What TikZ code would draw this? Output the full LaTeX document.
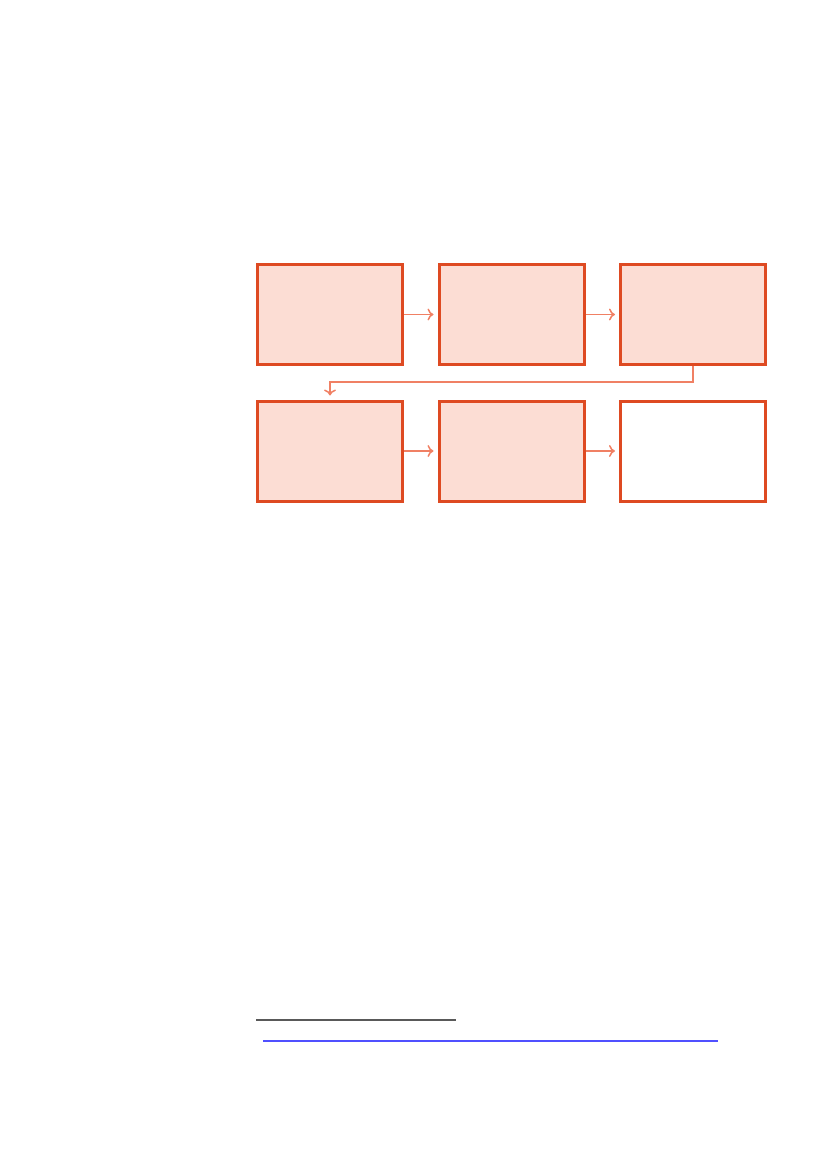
\documentclass[tikz,border=0pt]{standalone}
\usetikzlibrary{arrows.meta}
\definecolor{boxline}{RGB}{222,74,34}
\definecolor{boxfill}{RGB}{252,221,212}
\definecolor{flowline}{RGB}{240,128,100}
\definecolor{footblue}{RGB}{80,80,255}

\begin{document}
\begin{tikzpicture}[x=1pt,y=-1pt,
  stage box/.style={rectangle,draw=boxline,fill=boxfill,line width=3pt,
    minimum width=145pt,minimum height=100pt,inner sep=0pt},
  flow/.style={draw=flowline,line width=1.5pt,
    -{To[length=6pt,width=12pt,line width=1.5pt]},shorten >=4pt}]

  \useasboundingbox (0,0) rectangle (827,1170);

  \node[stage box]  (1) at (330, 314.5) {};
  \node[stage box]  (2) at (511.5, 314.5) {};
  \node[stage box]  (3) at (693, 314.5) {};
  \node[stage box]  (4) at (330, 451) {};
  \node[stage box]  (5) at (511.5, 451) {};
  \node[stage box, fill=white]  (6) at (693, 451) {};

  \path[flow]
    (1) edge (2)
    (2) edge (3)
    (4) edge (5)
    (5) edge (6);
  %wrap to second row
  \draw[flow] (3.south) -- ++(0,16) -| (4.north);

  %rules at the foot
  \draw[black!65,line width=1.2pt] (256,1020) -- (456,1020);
  \draw[footblue,line width=1.5pt] (263,1041) -- (718,1041);

\end{tikzpicture}
\end{document}
